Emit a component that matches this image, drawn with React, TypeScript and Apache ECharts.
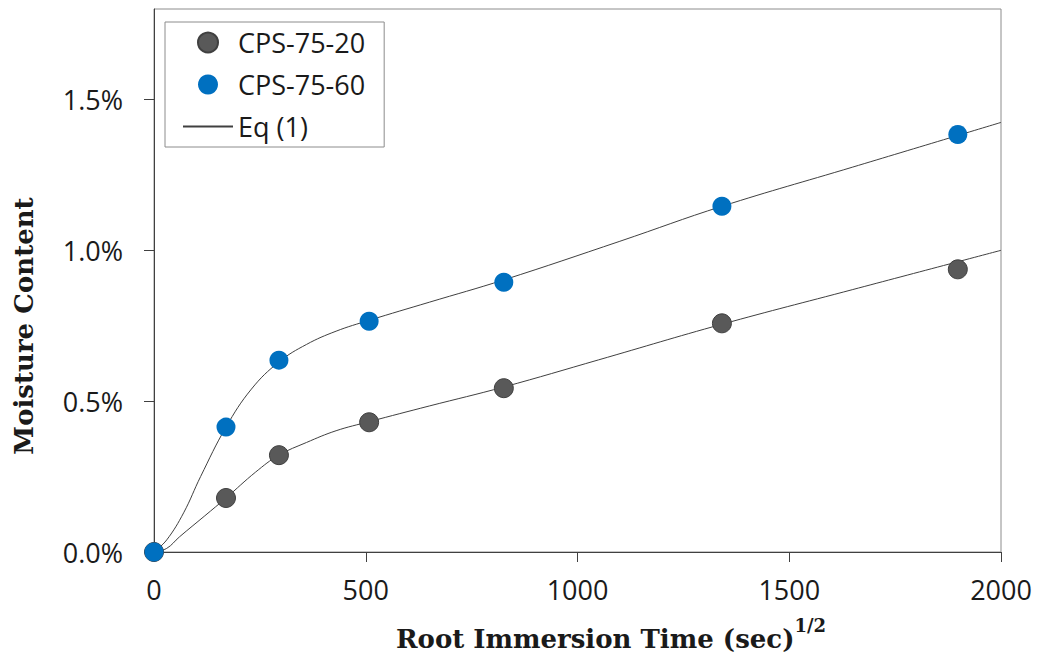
import React, { useEffect, useRef } from "react";
import * as echarts from "echarts";

const timeX = [0, 170, 295, 508, 826, 1341, 1898];
const cps20 = [0, 0.179, 0.321, 0.43, 0.543, 0.758, 0.937];
const cps60 = [0, 0.414, 0.636, 0.765, 0.894, 1.146, 1.384];

const eq20X = [0, 30, 60, 120, 170, 240, 295, 360, 430, 508, 650, 826, 1050, 1341, 1650, 2000];
const eq20Y = [0, 0.012, 0.05, 0.12, 0.179, 0.265, 0.321, 0.363, 0.402, 0.432, 0.484, 0.547, 0.637, 0.755, 0.87, 1.0];
const eq60X = [0, 30, 70, 110, 170, 230, 295, 360, 430, 508, 650, 826, 1100, 1341, 1650, 2000];
const eq60Y = [0, 0.04, 0.13, 0.25, 0.414, 0.54, 0.63, 0.688, 0.732, 0.768, 0.828, 0.902, 1.03, 1.146, 1.276, 1.424];

const xTicks = [0, 500, 1000, 1500, 2000];
const yTicks = [0, 0.5, 1.0, 1.5];

const pairs = (xs: number[], ys: number[]) => xs.map((x, i) => [x, ys[i]]);

export default function App() {
  const ref = useRef<HTMLDivElement>(null);
  useEffect(() => {
    if (!ref.current) return;
    const chart = echarts.init(ref.current, null, { renderer: "svg" });
    const sans = "'Open Sans', sans-serif";
    const serif = "'DejaVu Serif', serif";
    chart.setOption({
      animation: false,
      backgroundColor: "#ffffff",
      grid: {
        left: 154,
        right: 36,
        top: 9,
        bottom: 109,
        show: true,
        borderColor: "#8c8c8c",
        borderWidth: 1,
        containLabel: false,
      },
      legend: {
        orient: "vertical",
        left: 165,
        top: 22,
        padding: [7, 19, 7, 17],
        itemWidth: 50,
        itemHeight: 20,
        itemGap: 15,
        borderColor: "#8c8c8c",
        borderWidth: 1,
        backgroundColor: "#ffffff",
        textStyle: { fontFamily: sans, fontSize: 27, color: "#1a1a1a" },
        data: [
          { name: "CPS-75-20", icon: "circle" },
          { name: "CPS-75-60", icon: "circle" },
          { name: "Eq (1)", itemStyle: { opacity: 0 } },
        ],
      },
      xAxis: {
        type: "value",
        min: 0,
        max: 2000,
        interval: 500,
        splitLine: { show: false },
        axisLine: { lineStyle: { color: "#404040", width: 1 } },
        axisTick: { show: true, length: 10, lineStyle: { color: "#404040" }, customValues: xTicks },
        axisLabel: {
          fontFamily: sans,
          fontSize: 27,
          color: "#1a1a1a",
          margin: 24,
          customValues: xTicks,
          formatter: (v: number) => String(v),
        },
      },
      yAxis: {
        type: "value",
        min: 0,
        max: 1.8,
        interval: 0.5,
        splitLine: { show: false },
        axisLine: { show: true, lineStyle: { color: "#404040", width: 1 } },
        axisTick: { show: true, length: 10, lineStyle: { color: "#404040" }, customValues: yTicks },
        axisLabel: {
          fontFamily: sans,
          fontSize: 27,
          color: "#1a1a1a",
          margin: 31,
          customValues: yTicks,
          formatter: (v: number) => v.toFixed(1) + "%",
        },
      },
      graphic: [
        {
          type: "text",
          x: 24,
          y: 326,
          rotation: Math.PI / 2,
          style: {
            text: "Moisture Content",
            fontFamily: serif,
            fontWeight: "bold",
            fontSize: 26,
            fill: "#1a1a1a",
            align: "center",
            verticalAlign: "middle",
          },
        },
        {
          type: "text",
          x: 611,
          y: 634,
          style: {
            text: "{a|Root Immersion Time (sec)}{s|1/2}",
            align: "center",
            verticalAlign: "middle",
            rich: {
              a: { fontFamily: serif, fontWeight: "bold", fontSize: 26, fill: "#1a1a1a", lineHeight: 36, verticalAlign: "bottom" },
              s: { fontFamily: serif, fontWeight: "bold", fontSize: 18, fill: "#1a1a1a", lineHeight: 36, verticalAlign: "top" },
            },
          },
        },
      ],
      series: [
        {
          name: "Eq (1)",
          type: "line",
          data: pairs(eq20X, eq20Y),
          smooth: 0.4,
          symbol: "none",
          showSymbol: false,
          lineStyle: { color: "#404040", width: 1 },
          itemStyle: { color: "#404040" },
          z: 1,
        },
        {
          name: "Eq (1)",
          type: "line",
          data: pairs(eq60X, eq60Y),
          smooth: 0.4,
          symbol: "none",
          showSymbol: false,
          lineStyle: { color: "#404040", width: 1 },
          itemStyle: { color: "#404040" },
          z: 1,
        },
        {
          name: "CPS-75-20",
          type: "scatter",
          data: pairs(timeX, cps20),
          symbol: "circle",
          symbolSize: 19,
          itemStyle: { color: "#595959", borderColor: "#404040", borderWidth: 1, opacity: 1 },
          z: 3,
        },
        {
          name: "CPS-75-60",
          type: "scatter",
          data: pairs(timeX, cps60),
          symbol: "circle",
          symbolSize: 19,
          itemStyle: { color: "#0070c0", opacity: 1 },
          z: 3,
        },
      ],
    });
    return () => chart.dispose();
  }, []);
  return <div ref={ref} style={{ width: 1037, height: 661, position: "absolute", left: 0, top: 0 }} />;
}
